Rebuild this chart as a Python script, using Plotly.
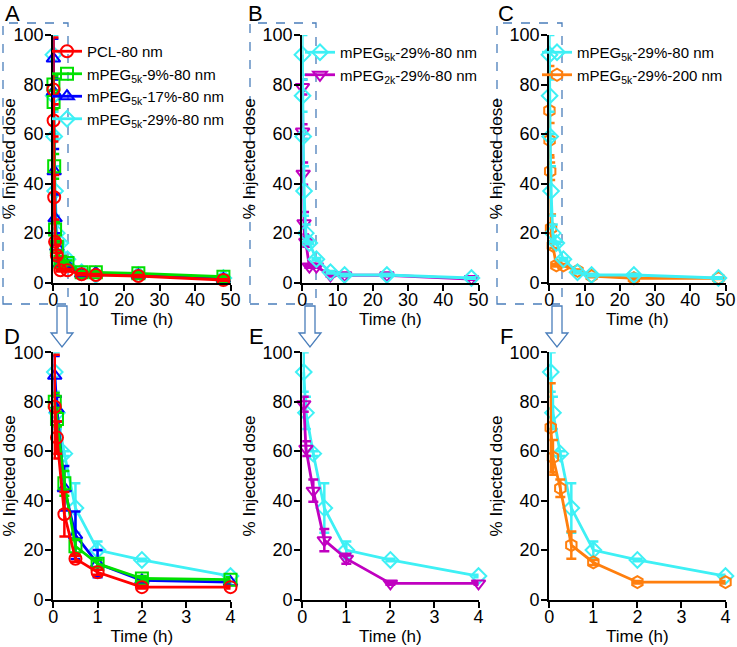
import plotly.graph_objects as go

W, H = 737, 647

# ---------------- data ----------------
time_h = [0.033, 0.083, 0.25, 0.5, 1, 2, 4, 8, 12, 24, 48]

pcl_80 = [78, 65.5, 34.5, 16.5, 11, 5, 5, 3.4, 3.1, 2.7, 1.1]
pcl_80_err = [21, 6.5, 9, 1.2, 1, 0.5, 0.5, 0.4, 0.4, 0.4, 0.3]

peg5k_9 = [80, 73, 47, 21.5, 14.5, 8.5, 8, 4.2, 4.2, 3.8, 2.4]
peg5k_9_err = [3.5, 3, 5, 3, 1.5, 1, 1, 0.5, 0.5, 0.5, 0.5]

peg5k_17 = [90.5, 77, 45, 26, 14.5, 7.7, 7, 3.6, 4, 3, 1.5]
peg5k_17_err = [8, 5, 9, 9.6, 5.5, 1, 0.5, 0.5, 0.5, 0.5, 0.4]

peg5k_29 = [92, 75.5, 59, 37, 20, 16, 9.5, 4.2, 3.1, 3.1, 1.9]
peg5k_29_err = [8, 6.5, 1, 10, 3.5, 0.5, 0.5, 0.5, 0.5, 0.5, 0.3]

peg2k_29 = [79, 61, 44, 24, 16.5, 6.5, 6.5, 3, 3, 3, 1.5]
peg2k_29_err = [3, 3, 4.5, 4.5, 2, 0.5, 0.5, 0.5, 0.5, 0.5, 0.3]

peg5k_29_200 = [69.5, 57.5, 45, 22, 15, 7, 7, 4.8, 2.7, 1.8, 1.8]
peg5k_29_200_err = [18, 7, 3.5, 5.5, 1, 0.5, 0.5, 0.5, 0.5, 0.5, 0.3]

x_ticks_full = [0, 10, 20, 30, 40, 50]
x_ticks_zoom = [0, 1, 2, 3, 4]
y_ticks = [0, 20, 40, 60, 80, 100]
panel_letters = ["A", "B", "C", "D", "E", "F"]

# ---------------- styles ----------------
FONT = "Arial, Liberation Sans, sans-serif"
RED, GREEN, BLUE = "#ff0000", "#00e000", "#0000ff"
CYAN, MAGENTA, ORANGE = "#3ef0f5", "#c000c0", "#ff7f0e"
BOXC = "#4a7ebb"

series = {
    "pcl": dict(y=pcl_80, e=pcl_80_err, c=RED, s="circle-open", name="PCL-80 nm"),
    "g9": dict(y=peg5k_9, e=peg5k_9_err, c=GREEN, s="square-open", name="mPEG<sub>5k</sub>-9%-80 nm"),
    "b17": dict(y=peg5k_17, e=peg5k_17_err, c=BLUE, s="triangle-up-open", name="mPEG<sub>5k</sub>-17%-80 nm"),
    "c29": dict(y=peg5k_29, e=peg5k_29_err, c=CYAN, s="diamond-open", name="mPEG<sub>5k</sub>-29%-80 nm"),
    "m2k": dict(y=peg2k_29, e=peg2k_29_err, c=MAGENTA, s="triangle-down-open", name="mPEG<sub>2k</sub>-29%-80 nm"),
    "o200": dict(y=peg5k_29_200, e=peg5k_29_200_err, c=ORANGE, s="hexagon-open", name="mPEG<sub>5k</sub>-29%-200 nm"),
}

panels = [
    (["c29", "b17", "g9", "pcl"], True, "legend"),
    (["m2k", "c29"], True, "legend2"),
    (["o200", "c29"], True, "legend3"),
    (["c29", "b17", "g9", "pcl"], False, None),
    (["c29", "m2k"], False, None),
    (["c29", "o200"], False, None),
]
legend_order = {
    "legend": ["pcl", "g9", "b17", "c29"],
    "legend2": ["c29", "m2k"],
    "legend3": ["c29", "o200"],
}

cols_px = [(53.3, 230.5), (302.3, 478.5), (549.3, 725.5)]
rows_px = [(35.0, 282.7), (352.3, 599.5)]


def px(x):
    return x / W


def py(y):
    return 1 - y / H


fig = go.Figure()
layout = {}
for i, (keys, full, leg) in enumerate(panels):
    r, c = divmod(i, 3)
    n = "" if i == 0 else str(i + 1)
    xa, ya = "x" + n, "y" + n
    x0, x1 = cols_px[c]
    yt, yb = rows_px[r]
    xmax = 50 if full else 4
    layout["xaxis" + n] = dict(
        domain=[px(x0), px(x1)], range=[0, xmax], anchor=ya, automargin=False,
        tickvals=x_ticks_full if full else x_ticks_zoom,
        showline=True, linecolor="black", linewidth=2.2, ticks="outside",
        ticklen=6, tickwidth=2, tickcolor="black", showgrid=False, zeroline=False,
        ticklabelstandoff=-6,
        tickfont=dict(family=FONT, size=18, color="black"),
        title=dict(text="Time (h)", font=dict(family=FONT, size=17, color="black"),
                   standoff=0 if full else 2),
    )
    layout["yaxis" + n] = dict(
        domain=[py(yb), py(yt)], range=[0, 100], anchor=xa, automargin=False,
        tickvals=y_ticks, showline=True, linecolor="black", linewidth=2.2,
        ticks="outside", ticklen=6, tickwidth=2, tickcolor="black",
        showgrid=False, zeroline=False, ticklabelstandoff=-2,
        tickfont=dict(family=FONT, size=18, color="black"),
        title=dict(text="% Injected dose", font=dict(family=FONT, size=17, color="black"), standoff=3),
    )
    for k in keys:
        s = series[k]
        if full:
            xs, ys, es = time_h, s["y"], s["e"]
        else:
            idx = [j for j, t in enumerate(time_h) if t <= xmax]
            xs = [time_h[j] for j in idx]
            ys = [s["y"][j] for j in idx]
            es = [s["e"][j] for j in idx]
        fig.add_trace(go.Scatter(
            x=xs, y=ys, xaxis=xa, yaxis=ya, mode="lines+markers", name=s["name"],
            line=dict(color=s["c"], width=2.8),
            marker=dict(symbol=s["s"], size=12, color=s["c"], line=dict(width=2, color=s["c"])),
            error_y=dict(type="data", array=es, visible=True, color=s["c"], thickness=2.5, width=5),
            cliponaxis=False,
            showlegend=leg is not None,
            legend=leg if leg else "legend",
            legendrank=(legend_order[leg].index(k) + 1) if leg else 1000,
        ))

leg_common = dict(
    bgcolor="rgba(0,0,0,0)", borderwidth=0, xanchor="left", yanchor="top",
    font=dict(family=FONT, size=15, color="black"), tracegroupgap=0, itemwidth=30,
)
layout["legend"] = dict(x=px(47), y=py(35), **leg_common)
layout["legend2"] = dict(x=px(300), y=py(36), **leg_common)
layout["legend3"] = dict(x=px(537), y=py(36), **leg_common)

annotations = []
letter_pos = [(3, 14), (246, 14), (496, 14), (2, 337), (247, 337), (498, 337)]
for L, (lx, ly) in zip(panel_letters, letter_pos):
    annotations.append(dict(
        text=L, x=px(lx), y=py(ly), xref="paper", yref="paper",
        xanchor="left", yanchor="middle", showarrow=False,
        font=dict(family=FONT, size=22, color="black"),
    ))

shapes = []
boxes_px = [(3, 68), (250, 316), (497, 562)]
for (bx0, bx1) in boxes_px:
    shapes.append(dict(type="rect", xref="paper", yref="paper",
                       x0=px(bx0), x1=px(bx1), y0=py(304), y1=py(23),
                       line=dict(color=BOXC, width=1.3, dash="dash"),
                       fillcolor="rgba(0,0,0,0)", layer="below"))

arrow_cx = [62, 310, 557]
for cx in arrow_cx:
    top, neck, tip = 306, 333, 347
    sw, hw = 5, 11
    pts = [(cx - sw, top), (cx + sw, top), (cx + sw, neck), (cx + hw, neck),
           (cx, tip), (cx - hw, neck), (cx - sw, neck)]
    path = "M " + " L ".join(f"{px(a):.5f},{py(b):.5f}" for a, b in pts) + " Z"
    shapes.append(dict(type="path", xref="paper", yref="paper", path=path,
                       line=dict(color=BOXC, width=1.3), fillcolor="white"))

fig.update_layout(
    width=W, height=H, margin=dict(l=0, r=0, t=0, b=0),
    paper_bgcolor="white", plot_bgcolor="rgba(0,0,0,0)",
    annotations=annotations, shapes=shapes, **layout,
)

fig.write_html(
    "out.html",
    config={"displayModeBar": False},
    post_script="document.body.style.margin='0px';document.body.style.overflow='hidden';",
)
